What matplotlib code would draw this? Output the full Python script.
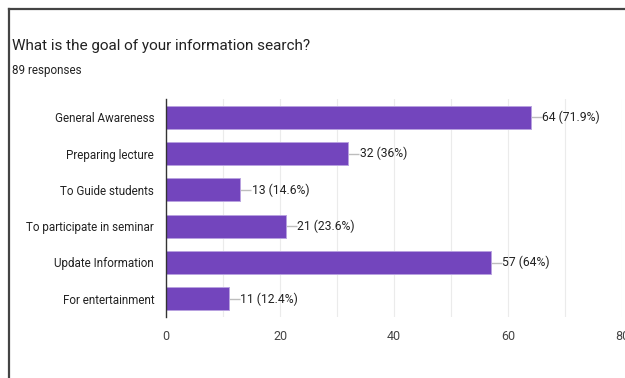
import matplotlib.pyplot as plt
from matplotlib.lines import Line2D

# Survey answers, top to bottom
categories = ['General Awareness', 'Preparing lecture', 'To Guide students',
              'To participate in seminar', 'Update Information', 'For entertainment']
counts = [64, 32, 13, 21, 57, 11]
percents = ['71.9%', '36%', '14.6%', '23.6%', '64%', '12.4%']
total = 89
xticks = [0, 20, 40, 60, 80]

plt.rcParams['font.family'] = ['Roboto', 'DejaVu Sans']

W, H = 625, 378
fig = plt.figure(figsize=(W / 100, H / 100), dpi=100)

# axes placed in pixel units
left, right, top, bottom = 166, 622, 99, 317
ax = fig.add_axes([left / W, 1 - bottom / H, (right - left) / W, (bottom - top) / H])

ypos = list(range(len(categories)))
ax.barh(ypos, counts, height=0.64, color='#7345bd', edgecolor='#b8a2e0', linewidth=0.7, zorder=3)

ax.set_xlim(0, 80)
ax.set_ylim(len(categories) - 0.5, -0.5)

# light grid every 10
for v in range(10, 81, 10):
    ax.axvline(v, color='#ebebeb', linewidth=0.8, zorder=0)

ax.set_xticks(xticks)
ax.set_xticklabels([str(t) for t in xticks], fontsize=9, color='#444444')
ax.set_yticks(ypos)
ax.set_yticklabels(categories, fontsize=8.4, color='#222222')
ax.tick_params(axis='both', length=0)
ax.tick_params(axis='x', pad=9)
ax.tick_params(axis='y', pad=8.5)

for s in ['top', 'right', 'bottom']:
    ax.spines[s].set_visible(False)
ax.spines['left'].set_color('#333333')
ax.spines['left'].set_linewidth(1.0)
ax.spines['left'].set_zorder(4)

# value labels with a short leader line
px = 80 / (right - left)
for y, c, p in zip(ypos, counts, percents):
    ax.plot([c, c + 11 * px], [y, y], color='#bdbdbd', linewidth=1.0, zorder=2,
            solid_capstyle='butt')
    ax.text(c + 11.5 * px, y, f'{c} ({p})', va='center', ha='left',
            fontsize=8.7, color='#222222')

fig.text(12 / W, 1 - 50 / H, 'What is the goal of your information search?',
         fontsize=11.0, color='#222222', va='baseline', ha='left')
fig.text(12 / W, 1 - 74 / H, f'{total} responses', fontsize=8.4, color='#222222',
         va='baseline', ha='left')

# frame lines along top and left edges
fig.add_artist(Line2D([8.5 / W, 624 / W], [1 - 8.5 / H, 1 - 8.5 / H],
                      color='#444444', linewidth=1.6, transform=fig.transFigure))
fig.add_artist(Line2D([8.5 / W, 8.5 / W], [1 - 8.5 / H, 0],
                      color='#444444', linewidth=1.6, transform=fig.transFigure))

fig.savefig('out.png', dpi=100)
